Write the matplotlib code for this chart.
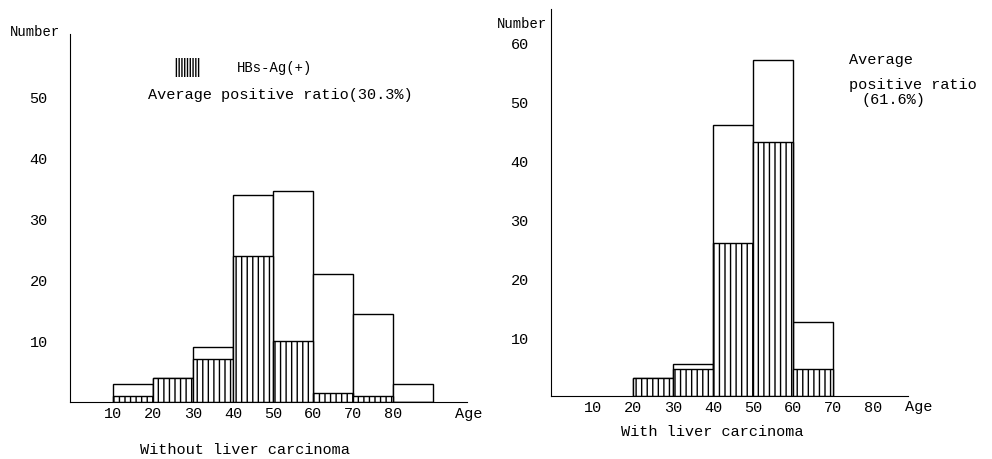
import matplotlib
matplotlib.use('Agg')
from matplotlib import pyplot as plt

# age groups (left edge of each 10-year bin)
left_bins = [10, 20, 30, 40, 50, 60, 70, 80]
left_total = [3, 4, 9, 34, 34.5, 21, 14.5, 3]
left_pos = [1, 4, 7, 24, 10, 1.5, 1, 0]

right_bins = [20, 30, 40, 50, 60]
right_total = [3, 5.5, 46, 57, 12.5]
right_pos = [3, 4.5, 26, 43, 4.5]

age_ticks = [10, 20, 30, 40, 50, 60, 70, 80]
left_yticks = [10, 20, 30, 40, 50]
right_yticks = [10, 20, 30, 40, 50, 60]

plt.rcParams['font.family'] = ['Liberation Mono', 'DejaVu Sans Mono']
plt.rcParams['hatch.linewidth'] = 1.0
fs = 11

W, H = 992, 460
fig = plt.figure(figsize=(W / 100, H / 100), dpi=100)


def px_axes(x0, x1, y_top, y_bot):
    return fig.add_axes([x0 / W, (H - y_bot) / H, (x1 - x0) / W, (y_bot - y_top) / H])


def setup(ax, yticks):
    ax.spines['top'].set_visible(False)
    ax.spines['right'].set_visible(False)
    ax.set_xticks(age_ticks)
    ax.set_xticklabels([str(t) for t in age_ticks], fontsize=fs)
    ax.set_yticks(yticks)
    ax.set_yticklabels([str(t) for t in yticks], fontsize=fs)
    ax.tick_params(axis='x', length=0, pad=3)
    ax.tick_params(axis='y', length=0, pad=16)
    ax.patch.set_alpha(0)


def draw_bars(ax, bins, total, pos):
    ax.bar(bins, total, width=10, align='edge', color='white', edgecolor='black', linewidth=1.0)
    ax.bar(bins, pos, width=10, align='edge', color='white', edgecolor='black', hatch='|||', linewidth=1.0)


# left panel
ax1 = px_axes(70, 473, 35, 403)
ax1.set_xlim(-0.75, 100)
ax1.set_ylim(0, 60.3)
draw_bars(ax1, left_bins, left_total, left_pos)
setup(ax1, left_yticks)
ax1.spines['bottom'].set_bounds(-0.75, 98.5)

fig.text(10 / W, 1 - 32 / H, 'Number', fontsize=fs - 1, va='center', ha='left')
fig.text(455 / W, 1 - 414 / H, 'Age', fontsize=fs, va='center', ha='left')
fig.text(245 / W, 1 - 450 / H, 'Without liver carcinoma', fontsize=fs, va='center', ha='center')

# legend
leg = plt.Rectangle((175 / W, 1 - 78 / H), 25 / W, 19 / H, transform=fig.transFigure,
                    facecolor='white', edgecolor='black', linewidth=0, hatch='||||||')
fig.patches.append(leg)
fig.text(237 / W, 1 - 68 / H, 'HBs-Ag(+)', fontsize=fs - 1, va='center', ha='left')
fig.text(148 / W, 1 - 95 / H, 'Average positive ratio(30.3%)', fontsize=fs, va='center', ha='left')

# right panel
ax2 = px_axes(551, 910, 10, 397)
ax2.set_xlim(-0.5, 89.25)
ax2.set_ylim(0, 65.6)
draw_bars(ax2, right_bins, right_total, right_pos)
setup(ax2, right_yticks)
ax2.spines['bottom'].set_bounds(-0.5, 88.75)

fig.text(497 / W, 1 - 24 / H, 'Number', fontsize=fs - 1, va='center', ha='left')
fig.text(905 / W, 1 - 407 / H, 'Age', fontsize=fs, va='center', ha='left')
fig.text(712 / W, 1 - 432 / H, 'With liver carcinoma', fontsize=fs, va='center', ha='center')
fig.text(849 / W, 1 - 60 / H, 'Average', fontsize=fs, va='center', ha='left')
fig.text(849 / W, 1 - 85 / H, 'positive ratio', fontsize=fs, va='center', ha='left')
fig.text(862 / W, 1 - 100 / H, '(61.6%)', fontsize=fs, va='center', ha='left')

fig.savefig('out.png', dpi=100)
